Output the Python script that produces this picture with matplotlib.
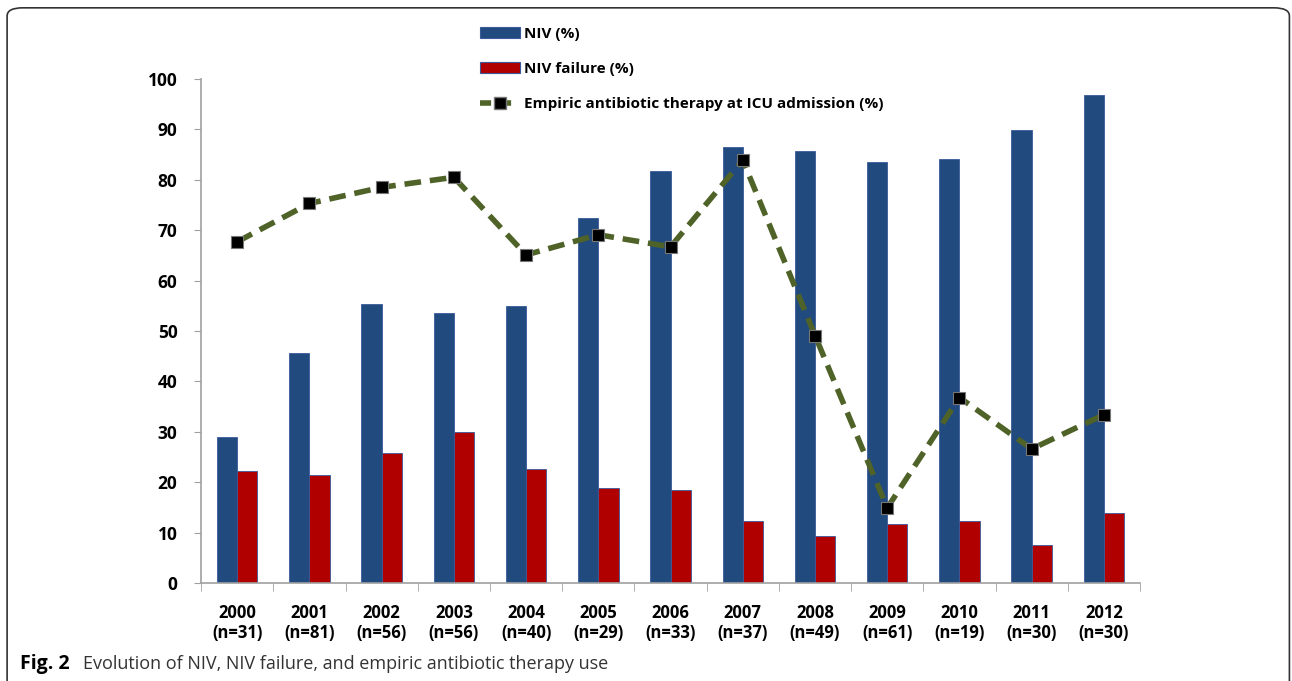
import numpy as np
import matplotlib.pyplot as plt
from matplotlib.patches import FancyBboxPatch
from matplotlib.lines import Line2D
from matplotlib.patches import Patch

years = ['2000', '2001', '2002', '2003', '2004', '2005', '2006',
         '2007', '2008', '2009', '2010', '2011', '2012']
n_pat = [31, 81, 56, 56, 40, 29, 33, 37, 49, 61, 19, 30, 30]
niv = [29.0, 45.6, 55.4, 53.6, 55.0, 72.4, 81.7, 86.5, 85.7, 83.5, 84.2, 89.9, 96.8]
niv_fail = [22.2, 21.5, 25.8, 29.9, 22.6, 18.9, 18.5, 12.4, 9.4, 11.8, 12.4, 7.5, 13.8]
antibio = [67.7, 75.3, 78.5, 80.5, 65.1, 69.1, 66.7, 83.9, 49.1, 14.9, 36.8, 26.6, 33.4]

FONT = ['Open Sans', 'DejaVu Sans']
plt.rcParams['font.family'] = FONT

fig = plt.figure(figsize=(12.92, 6.81), dpi=100)
ax = fig.add_axes([0.1556, 0.1439, 0.7268, 0.7401])

x = np.arange(len(years))
w = 0.28
blue = '#214A7E'
red = '#B00000'
green = '#4F6228'

ax.bar(x - w / 2, niv, w, color=blue, edgecolor='#3A5A9A', linewidth=0.6)
ax.bar(x + w / 2, niv_fail, w, color=red, edgecolor='#3A5A9A', linewidth=0.6)
ax.plot(x, antibio, '--', color=green, lw=4, dashes=(3, 1.6), zorder=3)
ax.plot(x, antibio, 's', color='black', ms=8, mec='#777777', mew=0.8, zorder=4)

ax.set_xlim(-0.5, len(years) - 0.5)
ax.set_ylim(0, 100)
ax.set_yticks(np.arange(0, 101, 10))
ax.set_xticks(x)
ax.set_xticklabels(['%s\n(n=%d)' % (y, n) for y, n in zip(years, n_pat)],
                   fontweight='bold', fontsize=12, linespacing=1.15)
ax.set_xticks(np.arange(-0.5, len(years)), minor=True)
ax.tick_params(axis='x', which='major', length=0, pad=15)
ax.tick_params(axis='x', which='minor', length=6, color='#a0a0a0', direction='out')
ax.tick_params(axis='y', length=5, color='#a0a0a0', direction='out', pad=12,
               labelsize=12.5)
for t in ax.get_yticklabels():
    t.set_fontweight('bold')

for s in ['top', 'right']:
    ax.spines[s].set_visible(False)
for s in ['left', 'bottom']:
    ax.spines[s].set_color('#a0a0a0')
    ax.spines[s].set_linewidth(1.2)

handles = [Patch(facecolor=blue, edgecolor='#3A5A9A', lw=0.8),
           Patch(facecolor=red, edgecolor='#3A5A9A', lw=0.8),
           Line2D([], [], color=green, ls='--', lw=4, dashes=(2.0, 1.6),
                  marker='s', mfc='black', mec='#777777', ms=8)]
labels = ['NIV (%)', 'NIV failure (%)',
          'Empiric antibiotic therapy at ICU admission (%)']
fig.legend(handles, labels, loc='upper left', bbox_to_anchor=(0.361, 0.981),
           frameon=False, handlelength=2.6, handleheight=0.7, handletextpad=0.25,
           labelspacing=1.4, prop={'family': FONT, 'weight': 'bold', 'size': 11})

fig.patches.append(FancyBboxPatch((0.0055, -0.02), 0.9925, 1.0085,
                                  boxstyle='round,pad=0,rounding_size=0.012',
                                  transform=fig.transFigure, fill=False,
                                  edgecolor='#333333', lw=1.2))

fig.text(0.0155, 0.018, 'Fig. 2', fontweight='bold', fontsize=14)
fig.text(0.064, 0.018, 'Evolution of NIV, NIV failure, and empiric antibiotic therapy use',
         fontsize=13, color='#333333')

fig.savefig('out.png', dpi=100)
